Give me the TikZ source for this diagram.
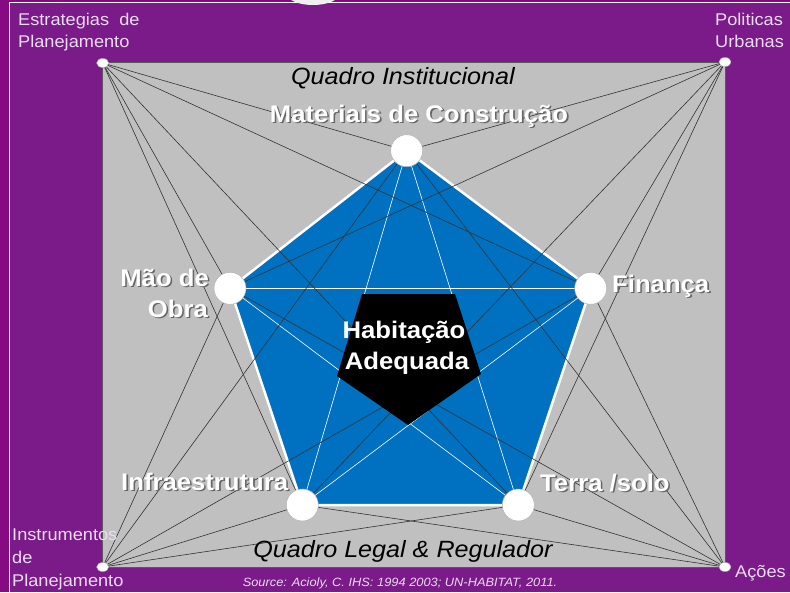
\documentclass[tikz,border=0pt]{standalone}
\usepackage{fontspec}
\setmainfont{Liberation Sans}[FakeStretch=1.07]
\usetikzlibrary{shapes.geometric}
\definecolor{outerm}{HTML}{860A82}
\definecolor{purp}{HTML}{7B1B8A}
\definecolor{boxgray}{HTML}{C0C0C0}
\definecolor{pblue}{HTML}{0070C0}
\definecolor{lav}{HTML}{EADDF0}
\definecolor{conncol}{HTML}{333333}
\newcommand\shtxt[1]{\rlap{\hspace{1.6pt}\raisebox{-1.6pt}{\textcolor{black!60}{#1}}}#1}
\pgfdeclarelayer{bg}
\pgfdeclarelayer{mid}
\pgfsetlayers{bg,mid,main}
\begin{document}
\begin{tikzpicture}[x=1pt,y=-1pt,
  corner/.style={ellipse, fill=white, draw=gray!60, line width=0.4pt, minimum width=12pt, minimum height=9pt, inner sep=0pt},
  vert/.style={circle, fill=white, draw=gray!60, line width=0.5pt, minimum size=32pt, inner sep=0pt},
  conn/.style={draw=conncol, line width=0.6pt},
  diag/.style={draw=white, line width=0.6pt},
  lbl/.style={font=\fontsize{24}{28}\selectfont\bfseries, text=white, inner sep=0pt, anchor=base},
  ital/.style={font=\fontsize{23.5}{28}\selectfont\itshape, text=black, inner sep=0pt, anchor=base},
  cl/.style={font=\fontsize{17}{20}\selectfont, text=lav, inner sep=0pt, anchor=base west}]
\useasboundingbox (0,0) rectangle (790,592);
% background frame
\begin{pgfonlayer}{bg}
\fill[outerm] (0,0) rectangle (790,592);
\fill[white] (8.5,1.5) rectangle (790,592);
\fill[purp] (9.6,2.6) rectangle (790,592);
\fill[white!88!gray] (313,-6) ellipse [x radius=26pt, y radius=11pt];
\fill[boxgray, draw=gray!70!black, line width=0.5pt] (102.7,62.5) rectangle (725,567);
\end{pgfonlayer}
% vertices and corners
\node[vert] (vT) at (406.7,150.7) {};
\node[vert] (vL) at (230,288.3) {};
\node[vert] (vR) at (590.7,288.3) {};
\node[vert] (vBL) at (302.3,505) {};
\node[vert] (vBR) at (518.3,505) {};
\node[corner] (cTL) at (102.7,63) {};
\node[corner] (cTR) at (725,62) {};
\node[corner] (cBL) at (102.7,567) {};
\node[corner] (cBR) at (725,567) {};
% blue pentagon and pentagram
\begin{pgfonlayer}{bg}
\filldraw[fill=pblue, draw=white, line width=2.5pt, line join=round]
  (vT.center) -- (vR.center) -- (vBR.center) -- (vBL.center) -- (vL.center) -- cycle;
\draw[diag] (vT.center) -- (vBL.center);
\draw[diag] (vT.center) -- (vBR.center);
\draw[diag] (vL.center) -- (vR.center);
\draw[diag] (vL.center) -- (vBR.center);
\draw[diag] (vR.center) -- (vBL.center);
\end{pgfonlayer}
% connectors corners -> vertices
\begin{pgfonlayer}{mid}
\foreach \c in {cTL,cTR,cBL,cBR}{
  \foreach \v in {vT,vL,vR,vBL,vBR}{
    \draw[conn] (\c.center) -- (\v.center);
  }
}
\end{pgfonlayer}
% central pentagon
\fill[black] (362,294) -- (455,294) -- (481,374) -- (408,425) -- (337,376) -- cycle;
% labels
\node[ital] (qi) at (403,84) {Quadro Institucional};
\node[ital] (ql) at (403,557) {Quadro Legal \& Regulador};
\node[lbl] (mat) at (419,122) {\shtxt{Materiais de Construção}};
\node[lbl,anchor=base east] (mao1) at (209,286) {\shtxt{Mão de}};
\node[lbl,anchor=base east] (mao2) at (208,317) {\shtxt{Obra}};
\node[lbl,anchor=base west] (fin) at (612,292) {\shtxt{Finança}};
\node[lbl,anchor=base west] (inf) at (121,490) {\shtxt{Infraestrutura}};
\node[lbl,anchor=base west] (ter) at (540,491) {\shtxt{Terra /solo}};
\node[lbl] (hab1) at (404,338) {Habitação};
\node[lbl] (hab2) at (407,369) {Adequada};
\node[font=\fontsize{12}{14}\selectfont\itshape, text=lav, inner sep=0pt, anchor=base] (src) at (400,586) {Source: Acioly, C. IHS: 1994 2003; UN-HABITAT, 2011.};
\node[cl] (est1) at (18,25) {Estrategias\ \ de};
\node[cl] (est2) at (18,47) {Planejamento};
\node[cl] (pol1) at (715,25) {Politicas};
\node[cl] (pol2) at (715,47) {Urbanas};
\node[cl] (ins1) at (12,540) {Instrumentos};
\node[cl] (ins2) at (12,563) {de};
\node[cl] (ins3) at (12,586) {Planejamento};
\node[cl] (aco) at (735,577) {Ações};
\end{tikzpicture}
\end{document}
